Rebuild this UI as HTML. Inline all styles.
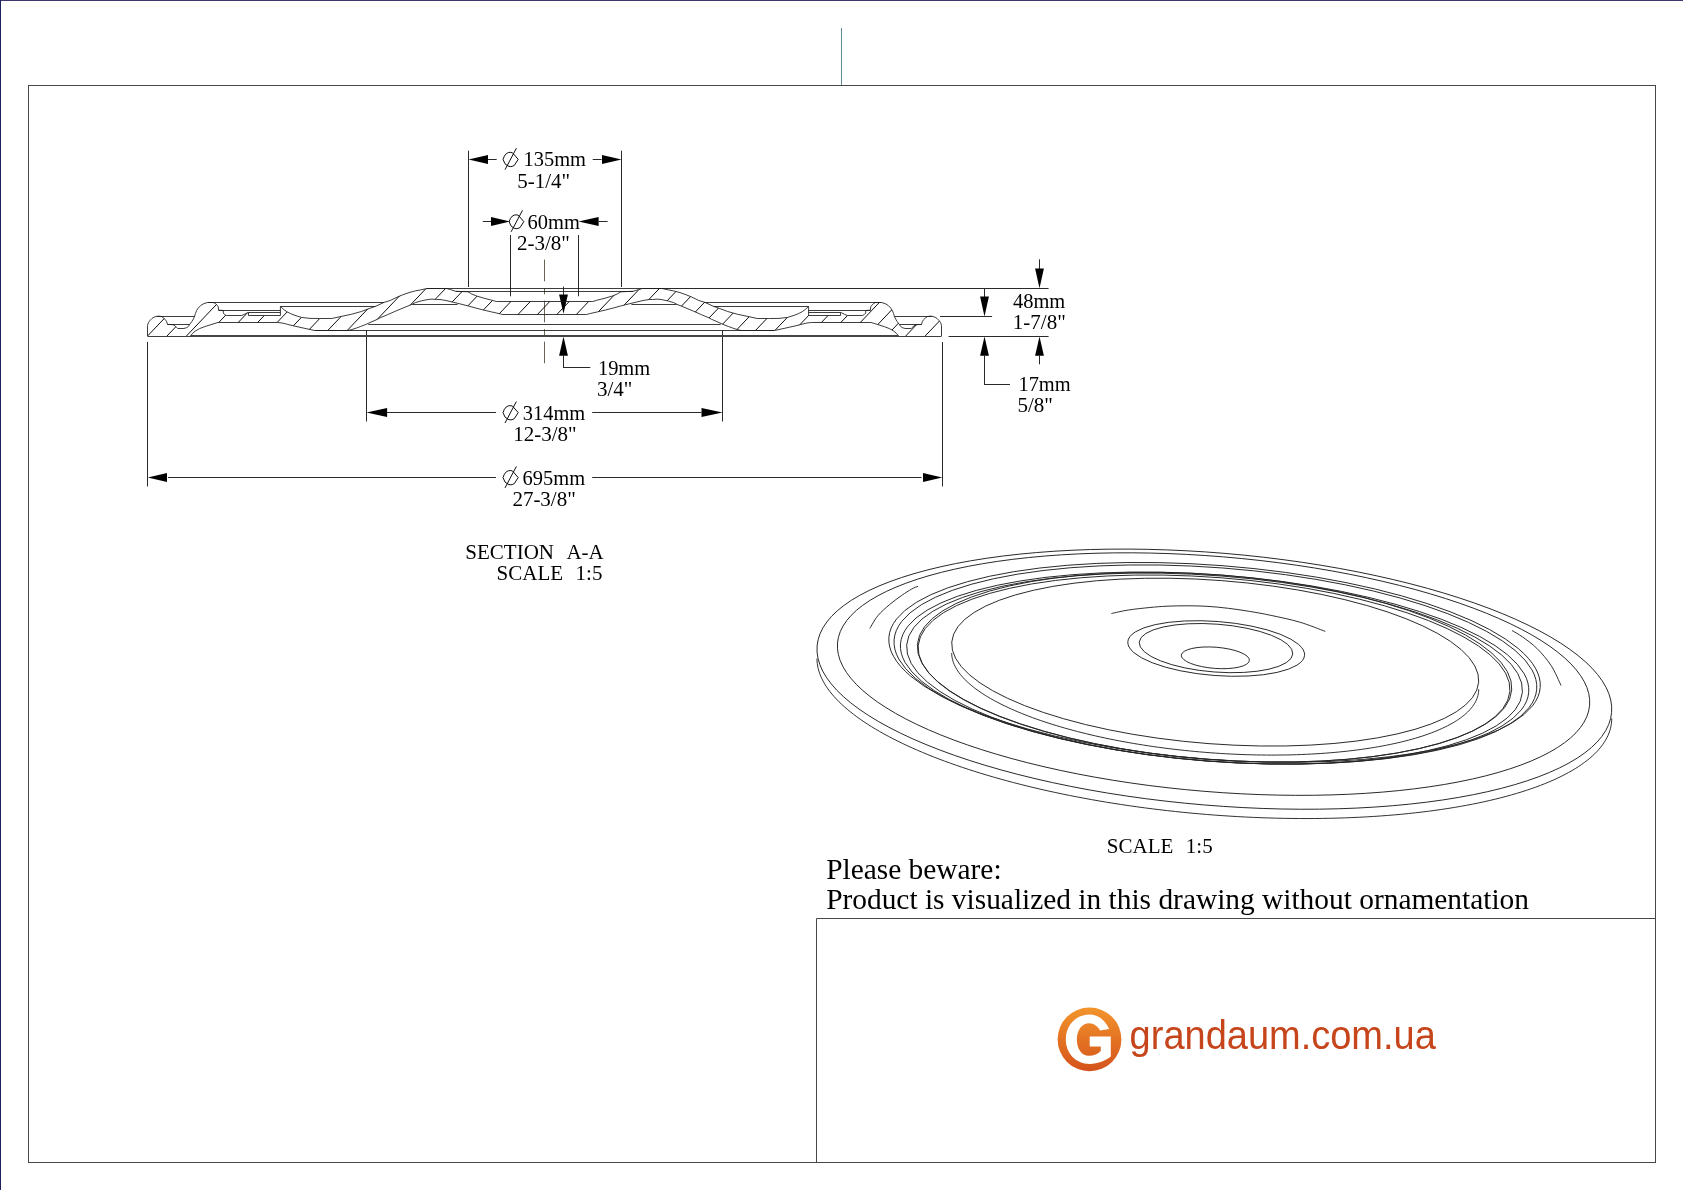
<!DOCTYPE html>
<html><head><meta charset="utf-8"><style>
html,body{margin:0;padding:0;background:#fff;}
body{width:1683px;height:1190px;overflow:hidden;}
svg{display:block;will-change:transform;}
</style></head><body>
<svg width="1683" height="1190" viewBox="0 0 1683 1190">
<rect x="28.5" y="85.5" width="1627" height="1077" fill="none" stroke="#474747" stroke-width="1"/>
<line x1="0" y1="0.5" x2="1683" y2="0.5" stroke="#3c3870" stroke-width="1"/>
<line x1="0.5" y1="0" x2="0.5" y2="1190" stroke="#20205e" stroke-width="1"/>
<line x1="841.5" y1="28" x2="841.5" y2="85" stroke="#5b8c9b" stroke-width="1"/>
<polyline points="816.5,1162 816.5,918.5 1655,918.5" fill="none" stroke="#474747" stroke-width="1"/>
<line x1="468.50" y1="150.70" x2="468.50" y2="287.00" stroke="#2a2a2a" stroke-width="1" />
<line x1="621.50" y1="150.70" x2="621.50" y2="287.00" stroke="#2a2a2a" stroke-width="1" />
<line x1="488.00" y1="159.50" x2="496.70" y2="159.50" stroke="#2a2a2a" stroke-width="1" />
<line x1="592.70" y1="159.50" x2="601.60" y2="159.50" stroke="#2a2a2a" stroke-width="1" />
<polygon points="468.50,159.50 488.00,155.10 488.00,163.90" fill="#000"/>
<polygon points="621.50,159.50 602.00,163.90 602.00,155.10" fill="#000"/>
<polygon points="503.00,159.30 504.40,156.00 506.30,153.60 508.30,152.60 510.20,152.30 512.40,152.70 518.20,159.30 514.30,165.40 512.10,166.40 510.20,166.60 508.00,166.00 505.00,163.80" fill="none" stroke="#000" stroke-width="0.95" stroke-linejoin="round"/>
<line x1="505.00" y1="169.70" x2="516.40" y2="148.20" stroke="#000" stroke-width="0.95"/>
<text transform="translate(523.50 166.40) scale(0.975 1)" font-family="Liberation Serif" font-size="21" fill="#000" xml:space="preserve">135mm</text>
<text x="517.28" y="187.50" font-family="Liberation Serif" font-size="21" fill="#000" xml:space="preserve">5-1/4&quot;</text>
<line x1="510.50" y1="235.00" x2="510.50" y2="296.30" stroke="#2a2a2a" stroke-width="1" />
<line x1="578.50" y1="235.00" x2="578.50" y2="296.30" stroke="#2a2a2a" stroke-width="1" />
<line x1="482.80" y1="221.50" x2="491.00" y2="221.50" stroke="#2a2a2a" stroke-width="1" />
<line x1="598.60" y1="221.50" x2="607.60" y2="221.50" stroke="#2a2a2a" stroke-width="1" />
<polygon points="510.50,221.50 491.00,225.90 491.00,217.10" fill="#000"/>
<polygon points="578.50,221.50 598.60,217.10 598.60,225.90" fill="#000"/>
<polygon points="509.10,221.61 510.46,218.41 512.30,216.08 514.24,215.11 516.08,214.82 518.22,215.21 523.84,221.61 520.06,227.53 517.93,228.50 516.08,228.69 513.95,228.11 511.04,225.98" fill="none" stroke="#000" stroke-width="0.95" stroke-linejoin="round"/>
<line x1="511.10" y1="231.80" x2="522.50" y2="210.30" stroke="#000" stroke-width="0.95"/>
<text transform="translate(527.62 228.50) scale(0.975 1)" font-family="Liberation Serif" font-size="21" fill="#000" xml:space="preserve">60mm</text>
<text x="516.98" y="249.80" font-family="Liberation Serif" font-size="21" fill="#000" xml:space="preserve">2-3/8&quot;</text>
<line x1="661.50" y1="288.50" x2="1048.60" y2="288.50" stroke="#2a2a2a" stroke-width="1" />
<line x1="940.00" y1="316.50" x2="992.10" y2="316.50" stroke="#2a2a2a" stroke-width="1" />
<line x1="948.60" y1="336.50" x2="1048.60" y2="336.50" stroke="#2a2a2a" stroke-width="1" />
<line x1="1039.50" y1="259.30" x2="1039.50" y2="269.00" stroke="#2a2a2a" stroke-width="1" />
<polygon points="1039.50,288.30 1035.10,268.60 1043.90,268.60" fill="#000"/>
<line x1="984.50" y1="288.30" x2="984.50" y2="297.00" stroke="#2a2a2a" stroke-width="1" />
<polygon points="984.50,316.40 980.10,296.40 988.90,296.40" fill="#000"/>
<polygon points="984.50,336.60 988.90,355.70 980.10,355.70" fill="#000"/>
<line x1="984.50" y1="355.00" x2="984.50" y2="384.50" stroke="#2a2a2a" stroke-width="1" />
<line x1="984.00" y1="384.50" x2="1010.00" y2="384.50" stroke="#2a2a2a" stroke-width="1" />
<polygon points="1039.50,336.60 1043.90,355.70 1035.10,355.70" fill="#000"/>
<line x1="1039.50" y1="355.00" x2="1039.50" y2="364.30" stroke="#2a2a2a" stroke-width="1" />
<text transform="translate(1013.00 308.30) scale(0.975 1)" font-family="Liberation Serif" font-size="21" fill="#000" xml:space="preserve">48mm</text>
<text x="1012.85" y="329.40" font-family="Liberation Serif" font-size="21" fill="#000" xml:space="preserve">1-7/8&quot;</text>
<text transform="translate(1018.40 391.40) scale(0.975 1)" font-family="Liberation Serif" font-size="21" fill="#000" xml:space="preserve">17mm</text>
<text x="1017.38" y="412.40" font-family="Liberation Serif" font-size="21" fill="#000" xml:space="preserve">5/8&quot;</text>
<polygon points="563.50,313.70 559.10,294.50 567.90,294.50" fill="#000"/>
<line x1="563.50" y1="286.60" x2="563.50" y2="295.00" stroke="#2a2a2a" stroke-width="1" />
<polygon points="563.50,336.50 567.90,355.70 559.10,355.70" fill="#000"/>
<line x1="563.50" y1="355.00" x2="563.50" y2="367.50" stroke="#2a2a2a" stroke-width="1" />
<line x1="563.00" y1="367.50" x2="590.30" y2="367.50" stroke="#2a2a2a" stroke-width="1" />
<text transform="translate(597.90 374.90) scale(0.975 1)" font-family="Liberation Serif" font-size="21" fill="#000" xml:space="preserve">19mm</text>
<text x="596.90" y="395.60" font-family="Liberation Serif" font-size="21" fill="#000" xml:space="preserve">3/4&quot;</text>
<line x1="366.50" y1="330.40" x2="366.50" y2="421.50" stroke="#2a2a2a" stroke-width="1" />
<line x1="722.50" y1="330.40" x2="722.50" y2="421.50" stroke="#2a2a2a" stroke-width="1" />
<polygon points="366.50,412.50 387.10,408.10 387.10,416.90" fill="#000"/>
<polygon points="722.50,412.50 701.50,416.90 701.50,408.10" fill="#000"/>
<line x1="387.00" y1="412.50" x2="496.00" y2="412.50" stroke="#2a2a2a" stroke-width="1" />
<line x1="592.20" y1="412.50" x2="701.50" y2="412.50" stroke="#2a2a2a" stroke-width="1" />
<polygon points="503.00,412.60 504.40,409.30 506.30,406.90 508.30,405.90 510.20,405.60 512.40,406.00 518.20,412.60 514.30,418.70 512.10,419.70 510.20,419.90 508.00,419.30 505.00,417.10" fill="none" stroke="#000" stroke-width="0.95" stroke-linejoin="round"/>
<line x1="505.00" y1="423.00" x2="516.40" y2="401.50" stroke="#000" stroke-width="0.95"/>
<text transform="translate(522.72 419.70) scale(0.975 1)" font-family="Liberation Serif" font-size="21" fill="#000" xml:space="preserve">314mm</text>
<text x="513.15" y="441.00" font-family="Liberation Serif" font-size="21" fill="#000" xml:space="preserve">12-3/8&quot;</text>
<line x1="147.50" y1="342.00" x2="147.50" y2="486.50" stroke="#2a2a2a" stroke-width="1" />
<line x1="942.50" y1="342.00" x2="942.50" y2="486.50" stroke="#2a2a2a" stroke-width="1" />
<polygon points="147.80,477.50 167.00,473.10 167.00,481.90" fill="#000"/>
<polygon points="942.20,477.50 923.00,481.90 923.00,473.10" fill="#000"/>
<line x1="168.00" y1="477.50" x2="496.00" y2="477.50" stroke="#2a2a2a" stroke-width="1" />
<line x1="592.20" y1="477.50" x2="921.50" y2="477.50" stroke="#2a2a2a" stroke-width="1" />
<polygon points="503.00,477.50 504.40,474.20 506.30,471.80 508.30,470.80 510.20,470.50 512.40,470.90 518.20,477.50 514.30,483.60 512.10,484.60 510.20,484.80 508.00,484.20 505.00,482.00" fill="none" stroke="#000" stroke-width="0.95" stroke-linejoin="round"/>
<line x1="505.00" y1="487.90" x2="516.40" y2="466.40" stroke="#000" stroke-width="0.95"/>
<text transform="translate(522.62 484.70) scale(0.975 1)" font-family="Liberation Serif" font-size="21" fill="#000" xml:space="preserve">695mm</text>
<text x="512.38" y="506.00" font-family="Liberation Serif" font-size="21" fill="#000" xml:space="preserve">27-3/8&quot;</text>
<line x1="544.5" y1="259.6" x2="544.5" y2="364.3" stroke="#5a5242" stroke-width="0.9" stroke-dasharray="21.7 6.9 6.1 6.3"/>
<text x="465.30" y="558.80" font-family="Liberation Serif" font-size="21" fill="#000" xml:space="preserve">SECTION</text>
<text x="566.39" y="558.80" font-family="Liberation Serif" font-size="21" fill="#000" xml:space="preserve">A-A</text>
<text x="496.60" y="579.70" font-family="Liberation Serif" font-size="21" fill="#000" xml:space="preserve">SCALE</text>
<text x="575.55" y="579.70" font-family="Liberation Serif" font-size="21" fill="#000" xml:space="preserve">1:5</text>
<text x="1106.80" y="852.60" font-family="Liberation Serif" font-size="21" fill="#000" xml:space="preserve">SCALE</text>
<text x="1185.85" y="852.60" font-family="Liberation Serif" font-size="21" fill="#000" xml:space="preserve">1:5</text>
<text x="826.15" y="878.70" font-family="Liberation Serif" font-size="29.4" fill="#000" xml:space="preserve">Please beware:</text>
<text x="826.15" y="909.10" font-family="Liberation Serif" font-size="29.4" fill="#000" xml:space="preserve">Product is visualized in this drawing without ornamentation</text>
<defs><linearGradient id="og" x1="0" y1="0" x2="0" y2="1">
<stop offset="0" stop-color="#f3952c"/><stop offset="1" stop-color="#d4521b"/></linearGradient></defs>
<circle cx="1089.5" cy="1039.4" r="31.9" fill="url(#og)"/>
<path d="M1109.2,1028.9 C1105,1020 1098,1014.5 1089.8,1014.5 C1076,1014.5 1065.8,1025 1065.8,1039.2 C1065.8,1053.5 1076,1063.9 1089.8,1063.9 C1098,1063.9 1106,1060.5 1110.8,1056.5 L1110.8,1036.6 L1089.7,1036.6 L1089.7,1046.4 L1100.8,1046.4 L1100.8,1050.8 C1098,1054 1094,1055.8 1089,1055.8 C1081,1055.8 1076.9,1048 1076.9,1039.5 C1076.9,1030 1082,1023.2 1089,1023.2 C1094,1023.2 1098,1026.5 1100.1,1030.4 Z" fill="#fff"/>
<text transform="translate(1129.60 1048.5) scale(1 1.05)" font-family="Liberation Sans" font-size="38" fill="#c6451a">grandaum.com.ua</text>
<defs><clipPath id="cutclip"><path d="M147.50,336.10 L147.50,325.40 L148.40,322.60 L150.10,320.30 L152.00,318.40 L153.90,317.20 L156.80,316.30 L159.50,316.20 L161.60,316.60 L163.40,317.80 L165.30,319.60 L166.60,321.40 L167.50,324.50 L171.00,324.50 L173.40,324.90 L175.20,325.90 L176.50,327.30 L177.70,328.50 L183.90,328.50 L186.80,327.60 L188.60,326.20 L189.60,324.50 L191.80,321.60 L193.40,318.90 L194.60,316.40 L195.40,313.60 L196.60,310.60 L198.20,308.10 L200.60,305.60 L203.80,303.60 L207.60,302.50 L213.30,302.50 L215.40,303.50 L217.20,305.30 L218.30,306.90 L218.60,310.20 L223.30,310.50 L223.30,313.10 L224.50,314.40 L226.40,315.50 L241.60,315.50 L244.50,314.30 L247.80,312.60 L248.50,312.40 L248.50,315.50 L280.40,315.50 L280.40,306.40 L283.50,309.30 L286.80,311.70 L290.50,313.60 L295.00,315.40 L301.40,317.40 L310.00,318.40 L319.50,318.50 L331.80,318.50 L339.90,316.70 L351.80,314.20 L361.30,311.50 L369.80,308.30 L375.60,306.30 L384.20,302.30 L390.20,300.50 L397.80,296.80 L402.80,294.80 L409.00,292.60 L415.40,290.90 L420.50,289.90 L427.00,288.50 L446.50,288.50 L450.50,289.60 L455.70,291.30 L468.10,291.80 L471.40,293.80 L476.60,296.00 L484.00,298.20 L492.30,300.30 L496.20,301.50 L544.50,301.50 L544.50,314.50 L502.70,314.50 L499.50,313.70 L491.50,311.90 L483.80,310.10 L476.00,308.10 L468.80,306.10 L460.90,304.10 L453.10,302.20 L446.00,300.50 L440.00,299.50 L436.60,299.50 L432.00,299.10 L428.00,299.50 L421.50,300.80 L415.40,302.60 L412.40,304.20 L404.00,307.60 L395.20,311.30 L387.50,314.70 L380.10,317.80 L377.60,319.20 L371.00,322.10 L365.00,324.80 L360.50,326.50 L356.50,328.00 L352.00,329.50 L348.00,330.50 L314.70,330.50 L309.00,329.30 L300.00,327.30 L295.00,326.20 L290.00,325.00 L286.30,324.00 L282.00,323.00 L277.70,322.50 L217.90,322.50 L212.00,324.30 L204.80,326.60 L199.50,328.60 L195.30,331.10 L192.50,333.40 L190.50,336.10 Z"/><path d="M941.50,336.10 L941.50,325.40 L940.60,322.60 L938.90,320.30 L937.00,318.40 L935.10,317.20 L932.20,316.30 L929.50,316.20 L927.40,316.60 L925.60,317.80 L923.70,319.60 L922.40,321.40 L921.50,324.50 L918.00,324.50 L915.60,324.90 L913.80,325.90 L912.50,327.30 L911.30,328.50 L905.10,328.50 L902.20,327.60 L900.40,326.20 L899.40,324.50 L897.20,321.60 L895.60,318.90 L894.40,316.40 L893.60,313.60 L892.40,310.60 L890.80,308.10 L888.40,305.60 L885.20,303.60 L881.40,302.50 L875.70,302.50 L873.60,303.50 L871.80,305.30 L870.70,306.90 L870.40,310.20 L865.70,310.50 L865.70,313.10 L864.50,314.40 L862.60,315.50 L847.40,315.50 L844.50,314.30 L841.20,312.60 L840.50,312.40 L840.50,315.50 L808.60,315.50 L808.60,306.40 L805.50,309.30 L802.20,311.70 L798.50,313.60 L794.00,315.40 L787.60,317.40 L779.00,318.40 L769.50,318.50 L757.20,318.50 L749.10,316.70 L737.20,314.20 L727.70,311.50 L719.20,308.30 L713.40,306.30 L704.80,302.30 L698.80,300.50 L691.20,296.80 L686.20,294.80 L680.00,292.60 L673.60,290.90 L668.50,289.90 L662.00,288.50 L642.50,288.50 L638.50,289.60 L633.30,291.30 L620.90,291.80 L617.60,293.80 L612.40,296.00 L605.00,298.20 L596.70,300.30 L592.80,301.50 L544.50,301.50 L544.50,314.50 L586.30,314.50 L589.50,313.70 L597.50,311.90 L605.20,310.10 L613.00,308.10 L620.20,306.10 L628.10,304.10 L635.90,302.20 L643.00,300.50 L649.00,299.50 L652.40,299.50 L657.00,299.10 L661.00,299.50 L667.50,300.80 L673.60,302.60 L676.60,304.20 L685.00,307.60 L693.80,311.30 L701.50,314.70 L708.90,317.80 L711.40,319.20 L718.00,322.10 L724.00,324.80 L728.50,326.50 L732.50,328.00 L737.00,329.50 L741.00,330.50 L774.30,330.50 L780.00,329.30 L789.00,327.30 L794.00,326.20 L799.00,325.00 L802.70,324.00 L807.00,323.00 L811.30,322.50 L871.10,322.50 L877.00,324.30 L884.20,326.60 L889.50,328.60 L893.70,331.10 L896.50,333.40 L898.50,336.10 Z"/></clipPath></defs>
<path d="M142.58,280.0 L85.44,340.0 M162.02,280.0 L104.88,340.0 M181.46,280.0 L124.32,340.0 M200.90,280.0 L143.76,340.0 M220.34,280.0 L163.20,340.0 M239.78,280.0 L182.64,340.0 M259.22,280.0 L202.08,340.0 M278.66,280.0 L221.52,340.0 M298.10,280.0 L240.96,340.0 M317.54,280.0 L260.40,340.0 M336.98,280.0 L279.84,340.0 M356.42,280.0 L299.28,340.0 M375.86,280.0 L318.72,340.0 M395.30,280.0 L338.16,340.0 M414.74,280.0 L357.60,340.0 M434.18,280.0 L377.04,340.0 M453.62,280.0 L396.48,340.0 M473.06,280.0 L415.92,340.0 M492.50,280.0 L435.36,340.0 M511.94,280.0 L454.80,340.0 M531.38,280.0 L474.24,340.0 M550.82,280.0 L493.68,340.0 M570.26,280.0 L513.12,340.0 M589.70,280.0 L532.56,340.0 M609.14,280.0 L552.00,340.0 M628.58,280.0 L571.44,340.0 M648.02,280.0 L590.88,340.0 M667.46,280.0 L610.32,340.0 M686.90,280.0 L629.76,340.0 M706.34,280.0 L649.20,340.0 M725.78,280.0 L668.64,340.0 M745.22,280.0 L688.08,340.0 M764.66,280.0 L707.52,340.0 M784.10,280.0 L726.96,340.0 M803.54,280.0 L746.40,340.0 M822.98,280.0 L765.84,340.0 M842.42,280.0 L785.28,340.0 M861.86,280.0 L804.72,340.0 M881.30,280.0 L824.16,340.0 M900.74,280.0 L843.60,340.0 M920.18,280.0 L863.04,340.0 M939.62,280.0 L882.48,340.0 M959.06,280.0 L901.92,340.0 M978.50,280.0 L921.36,340.0 M997.94,280.0 L940.80,340.0 M1017.38,280.0 L960.24,340.0 M1036.82,280.0 L979.68,340.0 M1056.26,280.0 L999.12,340.0" stroke="#000" stroke-width="0.95" fill="none" clip-path="url(#cutclip)"/>
<path d="M147.50,336.10 L147.50,325.40 L148.40,322.60 L150.10,320.30 L152.00,318.40 L153.90,317.20 L156.80,316.30 L159.50,316.20 L161.60,316.60 L163.40,317.80 L165.30,319.60 L166.60,321.40 L167.50,324.50 L171.00,324.50 L173.40,324.90 L175.20,325.90 L176.50,327.30 L177.70,328.50 L183.90,328.50 L186.80,327.60 L188.60,326.20 L189.60,324.50 L191.80,321.60 L193.40,318.90 L194.60,316.40 L195.40,313.60 L196.60,310.60 L198.20,308.10 L200.60,305.60 L203.80,303.60 L207.60,302.50 L213.30,302.50 L215.40,303.50 L217.20,305.30 L218.30,306.90 L218.60,310.20 L223.30,310.50 L223.30,313.10 L224.50,314.40 L226.40,315.50 L241.60,315.50 L244.50,314.30 L247.80,312.60 L248.50,312.40 L248.50,315.50 L280.40,315.50 L280.40,306.40 L283.50,309.30 L286.80,311.70 L290.50,313.60 L295.00,315.40 L301.40,317.40 L310.00,318.40 L319.50,318.50 L331.80,318.50 L339.90,316.70 L351.80,314.20 L361.30,311.50 L369.80,308.30 L375.60,306.30 L384.20,302.30 L390.20,300.50 L397.80,296.80 L402.80,294.80 L409.00,292.60 L415.40,290.90 L420.50,289.90 L427.00,288.50 L446.50,288.50 L450.50,289.60 L455.70,291.30 L468.10,291.80 L471.40,293.80 L476.60,296.00 L484.00,298.20 L492.30,300.30 L496.20,301.50 L544.50,301.50" stroke="#1a1a1a" stroke-width="0.85" fill="none" stroke-linejoin="round"/>
<path d="M941.50,336.10 L941.50,325.40 L940.60,322.60 L938.90,320.30 L937.00,318.40 L935.10,317.20 L932.20,316.30 L929.50,316.20 L927.40,316.60 L925.60,317.80 L923.70,319.60 L922.40,321.40 L921.50,324.50 L918.00,324.50 L915.60,324.90 L913.80,325.90 L912.50,327.30 L911.30,328.50 L905.10,328.50 L902.20,327.60 L900.40,326.20 L899.40,324.50 L897.20,321.60 L895.60,318.90 L894.40,316.40 L893.60,313.60 L892.40,310.60 L890.80,308.10 L888.40,305.60 L885.20,303.60 L881.40,302.50 L875.70,302.50 L873.60,303.50 L871.80,305.30 L870.70,306.90 L870.40,310.20 L865.70,310.50 L865.70,313.10 L864.50,314.40 L862.60,315.50 L847.40,315.50 L844.50,314.30 L841.20,312.60 L840.50,312.40 L840.50,315.50 L808.60,315.50 L808.60,306.40 L805.50,309.30 L802.20,311.70 L798.50,313.60 L794.00,315.40 L787.60,317.40 L779.00,318.40 L769.50,318.50 L757.20,318.50 L749.10,316.70 L737.20,314.20 L727.70,311.50 L719.20,308.30 L713.40,306.30 L704.80,302.30 L698.80,300.50 L691.20,296.80 L686.20,294.80 L680.00,292.60 L673.60,290.90 L668.50,289.90 L662.00,288.50 L642.50,288.50 L638.50,289.60 L633.30,291.30 L620.90,291.80 L617.60,293.80 L612.40,296.00 L605.00,298.20 L596.70,300.30 L592.80,301.50 L544.50,301.50" stroke="#1a1a1a" stroke-width="0.85" fill="none" stroke-linejoin="round"/>
<path d="M544.50,314.50 L502.70,314.50 L499.50,313.70 L491.50,311.90 L483.80,310.10 L476.00,308.10 L468.80,306.10 L460.90,304.10 L453.10,302.20 L446.00,300.50 L440.00,299.50 L436.60,299.50 L432.00,299.10 L428.00,299.50 L421.50,300.80 L415.40,302.60 L412.40,304.20 L404.00,307.60 L395.20,311.30 L387.50,314.70 L380.10,317.80 L377.60,319.20 L371.00,322.10 L365.00,324.80 L360.50,326.50 L356.50,328.00 L352.00,329.50 L348.00,330.50 L314.70,330.50 L309.00,329.30 L300.00,327.30 L295.00,326.20 L290.00,325.00 L286.30,324.00 L282.00,323.00 L277.70,322.50 L217.90,322.50 L212.00,324.30 L204.80,326.60 L199.50,328.60 L195.30,331.10 L192.50,333.40 L190.50,336.10" stroke="#1a1a1a" stroke-width="0.85" fill="none" stroke-linejoin="round"/>
<path d="M544.50,314.50 L586.30,314.50 L589.50,313.70 L597.50,311.90 L605.20,310.10 L613.00,308.10 L620.20,306.10 L628.10,304.10 L635.90,302.20 L643.00,300.50 L649.00,299.50 L652.40,299.50 L657.00,299.10 L661.00,299.50 L667.50,300.80 L673.60,302.60 L676.60,304.20 L685.00,307.60 L693.80,311.30 L701.50,314.70 L708.90,317.80 L711.40,319.20 L718.00,322.10 L724.00,324.80 L728.50,326.50 L732.50,328.00 L737.00,329.50 L741.00,330.50 L774.30,330.50 L780.00,329.30 L789.00,327.30 L794.00,326.20 L799.00,325.00 L802.70,324.00 L807.00,323.00 L811.30,322.50 L871.10,322.50 L877.00,324.30 L884.20,326.60 L889.50,328.60 L893.70,331.10 L896.50,333.40 L898.50,336.10" stroke="#1a1a1a" stroke-width="0.85" fill="none" stroke-linejoin="round"/>
<path d="M156.80,316.50 L194.60,316.50" stroke="#1a1a1a" stroke-width="0.85" fill="none"/>
<path d="M932.20,316.50 L894.40,316.50" stroke="#1a1a1a" stroke-width="0.85" fill="none"/>
<path d="M167.50,324.50 L189.60,324.50" stroke="#1a1a1a" stroke-width="0.85" fill="none"/>
<path d="M921.50,324.50 L899.40,324.50" stroke="#1a1a1a" stroke-width="0.85" fill="none"/>
<path d="M207.60,302.50 L384.20,302.50" stroke="#1a1a1a" stroke-width="0.85" fill="none"/>
<path d="M881.40,302.50 L704.80,302.50" stroke="#1a1a1a" stroke-width="0.85" fill="none"/>
<path d="M218.60,310.50 L280.40,310.50" stroke="#1a1a1a" stroke-width="0.85" fill="none"/>
<path d="M870.40,310.50 L808.60,310.50" stroke="#1a1a1a" stroke-width="0.85" fill="none"/>
<path d="M248.50,312.50 L280.40,312.50" stroke="#1a1a1a" stroke-width="0.85" fill="none"/>
<path d="M840.50,312.50 L808.60,312.50" stroke="#1a1a1a" stroke-width="0.85" fill="none"/>
<path d="M280.40,306.50 L375.60,306.50" stroke="#1a1a1a" stroke-width="0.85" fill="none"/>
<path d="M808.60,306.50 L713.40,306.50" stroke="#1a1a1a" stroke-width="0.85" fill="none"/>
<path d="M412.40,304.50 L457.60,304.50" stroke="#1a1a1a" stroke-width="0.85" fill="none"/>
<path d="M676.60,304.50 L631.40,304.50" stroke="#1a1a1a" stroke-width="0.85" fill="none"/>
<path d="M427.00,288.50 L662.00,288.50" stroke="#1a1a1a" stroke-width="0.85" fill="none"/>
<path d="M455.70,291.50 L633.30,291.50" stroke="#1a1a1a" stroke-width="0.85" fill="none"/>
<path d="M368.30,324.50 L720.70,324.50" stroke="#1a1a1a" stroke-width="0.85" fill="none"/>
<path d="M314.70,330.50 L774.30,330.50" stroke="#1a1a1a" stroke-width="0.85" fill="none"/>
<path d="M147.50,336.50 L941.50,336.50" stroke="#1a1a1a" stroke-width="0.85" fill="none"/>
<line x1="190.5" y1="336" x2="898.5" y2="336" stroke="#444" stroke-width="2"/>
<ellipse cx="1214.36" cy="679.16" rx="398.64" ry="126.20" transform="rotate(4.788 1214.36 679.16)" fill="none" stroke="#262626" stroke-width="0.95"/>
<ellipse cx="1213.56" cy="674.08" rx="377.34" ry="117.61" transform="rotate(4.730 1213.56 674.08)" fill="none" stroke="#262626" stroke-width="0.95"/>
<ellipse cx="1214.55" cy="662.40" rx="326.63" ry="97.04" transform="rotate(4.400 1214.55 662.40)" fill="none" stroke="#262626" stroke-width="0.95"/>
<ellipse cx="1215.40" cy="664.49" rx="322.26" ry="96.78" transform="rotate(4.400 1215.40 664.49)" fill="none" stroke="#262626" stroke-width="0.95"/>
<ellipse cx="1214.60" cy="668.05" rx="315.05" ry="93.24" transform="rotate(4.400 1214.60 668.05)" fill="none" stroke="#262626" stroke-width="0.95"/>
<ellipse cx="1214.55" cy="668.57" rx="308.78" ry="92.82" transform="rotate(4.400 1214.55 668.57)" fill="none" stroke="#262626" stroke-width="0.95"/>
<ellipse cx="1214.55" cy="667.21" rx="298.04" ry="92.36" transform="rotate(4.400 1214.55 667.21)" fill="none" stroke="#262626" stroke-width="0.95"/>
<ellipse cx="1214.05" cy="668.54" rx="296.74" ry="91.02" transform="rotate(4.400 1214.05 668.54)" fill="none" stroke="#262626" stroke-width="0.95"/>
<ellipse cx="1215.21" cy="662.12" rx="264.21" ry="81.76" transform="rotate(4.354 1215.21 662.12)" fill="none" stroke="#262626" stroke-width="0.95"/>
<ellipse cx="1216.20" cy="648.50" rx="88.64" ry="27.04" transform="rotate(4.400 1216.20 648.50)" fill="none" stroke="#262626" stroke-width="0.95"/>
<ellipse cx="1216.00" cy="648.10" rx="77.00" ry="23.95" transform="rotate(4.400 1216.00 648.10)" fill="none" stroke="#262626" stroke-width="0.95"/>
<ellipse cx="1215.35" cy="657.81" rx="34.14" ry="10.60" transform="rotate(4.400 1215.35 657.81)" fill="none" stroke="#262626" stroke-width="0.95"/>
<path d="M1611.75,718.39 L1611.67,720.87 L1611.44,723.34 L1611.06,725.79 L1610.52,728.23 L1609.83,730.65 L1608.99,733.06 L1608.00,735.45 L1606.86,737.82 L1605.56,740.18 L1604.11,742.51 L1602.52,744.82 L1600.77,747.12 L1598.87,749.38 L1596.83,751.63 L1594.64,753.85 L1592.30,756.04 L1589.82,758.21 L1587.19,760.36 L1584.41,762.47 L1581.50,764.56 L1578.44,766.61 L1575.25,768.64 L1571.91,770.64 L1568.44,772.60 L1564.83,774.53 L1561.08,776.43 L1557.20,778.30 L1553.19,780.13 L1549.05,781.92 L1544.78,783.68 L1540.38,785.40 L1535.85,787.09 L1531.21,788.73 L1526.44,790.34 L1521.55,791.91 L1516.54,793.44 L1511.41,794.92 L1506.17,796.37 L1500.82,797.78 L1495.36,799.14 L1489.78,800.46 L1484.11,801.74 L1478.33,802.97 L1472.44,804.16 L1466.46,805.31 L1460.38,806.41 L1454.21,807.46 L1447.94,808.47 L1441.58,809.43 L1435.14,810.35 L1428.61,811.22 L1421.99,812.04 L1415.30,812.81 L1408.53,813.54 L1401.69,814.22 L1394.77,814.85 L1387.78,815.43 L1380.73,815.96 L1373.61,816.44 L1366.43,816.87 L1359.20,817.26 L1351.90,817.59 L1344.56,817.88 L1337.16,818.11 L1329.72,818.29 L1322.23,818.43 L1314.70,818.51 L1307.13,818.55 L1299.52,818.53 L1291.89,818.46 L1284.22,818.35 L1276.53,818.18 L1268.81,817.96 L1261.07,817.70 L1253.31,817.38 L1245.54,817.02 L1237.75,816.60 L1229.96,816.13 L1222.16,815.62 L1214.36,815.06 L1206.56,814.45 L1198.76,813.78 L1190.97,813.08 L1183.18,812.32 L1175.41,811.51 L1167.65,810.66 L1159.91,809.76 L1152.19,808.82 L1144.50,807.82 L1136.83,806.79 L1129.20,805.70 L1121.59,804.57 L1114.02,803.40 L1106.49,802.18 L1099.00,800.92 L1091.56,799.61 L1084.16,798.26 L1076.82,796.87 L1069.52,795.44 L1062.29,793.97 L1055.11,792.45 L1047.99,790.90 L1040.94,789.30 L1033.95,787.67 L1027.03,786.00 L1020.19,784.29 L1013.42,782.55 L1006.73,780.76 L1000.11,778.95 L993.58,777.09 L987.14,775.21 L980.78,773.29 L974.51,771.34 L968.34,769.35 L962.26,767.33 L956.28,765.29 L950.39,763.21 L944.61,761.11 L938.94,758.97 L933.36,756.82 L927.90,754.63 L922.55,752.42 L917.31,750.18 L912.18,747.92 L907.17,745.64 L902.28,743.33 L897.51,741.01 L892.87,738.66 L888.34,736.29 L883.94,733.91 L879.67,731.51 L875.53,729.09 L871.52,726.65 L867.64,724.21 L863.89,721.74 L860.28,719.27 L856.81,716.78 L853.47,714.28 L850.28,711.77 L847.22,709.26 L844.31,706.73 L841.53,704.20 L838.90,701.66 L836.42,699.12 L834.08,696.57 L831.89,694.02 L829.85,691.47 L827.95,688.91 L826.20,686.36 L824.61,683.80 L823.16,681.25 L821.86,678.70 L820.72,676.16 L819.73,673.62 L818.89,671.08 L818.20,668.56 L817.66,666.04 L817.28,663.52 L817.05,661.02 L816.97,658.53" fill="none" stroke="#262626" stroke-width="0.95"/>
<path d="M1478.73,689.25 L1478.68,690.86 L1478.53,692.46 L1478.27,694.05 L1477.92,695.63 L1477.46,697.20 L1476.90,698.76 L1476.25,700.31 L1475.49,701.85 L1474.63,703.38 L1473.67,704.90 L1472.61,706.40 L1471.45,707.89 L1470.19,709.36 L1468.84,710.82 L1467.38,712.27 L1465.83,713.70 L1464.19,715.11 L1462.44,716.50 L1460.60,717.88 L1458.67,719.24 L1456.64,720.58 L1454.52,721.91 L1452.31,723.21 L1450.01,724.49 L1447.61,725.75 L1445.13,726.99 L1442.56,728.21 L1439.90,729.41 L1437.15,730.59 L1434.32,731.74 L1431.40,732.87 L1428.40,733.97 L1425.32,735.05 L1422.16,736.11 L1418.91,737.14 L1415.59,738.15 L1412.19,739.13 L1408.72,740.08 L1405.17,741.01 L1401.55,741.91 L1397.85,742.78 L1394.09,743.62 L1390.25,744.44 L1386.35,745.23 L1382.39,745.99 L1378.35,746.72 L1374.26,747.42 L1370.10,748.10 L1365.89,748.74 L1361.61,749.35 L1357.28,749.94 L1352.90,750.49 L1348.46,751.01 L1343.97,751.50 L1339.43,751.96 L1334.85,752.39 L1330.21,752.79 L1325.54,753.16 L1320.82,753.49 L1316.05,753.79 L1311.26,754.06 L1306.42,754.30 L1301.55,754.51 L1296.64,754.69 L1291.71,754.83 L1286.74,754.94 L1281.75,755.02 L1276.73,755.06 L1271.68,755.08 L1266.62,755.06 L1261.54,755.00 L1256.43,754.92 L1251.32,754.81 L1246.18,754.66 L1241.04,754.48 L1235.89,754.26 L1230.72,754.02 L1225.56,753.74 L1220.38,753.43 L1215.21,753.09 L1210.04,752.72 L1204.86,752.32 L1199.70,751.88 L1194.53,751.42 L1189.38,750.92 L1184.24,750.39 L1179.10,749.84 L1173.99,749.25 L1168.88,748.63 L1163.80,747.98 L1158.74,747.30 L1153.69,746.60 L1148.67,745.86 L1143.68,745.09 L1138.71,744.30 L1133.78,743.48 L1128.87,742.63 L1124.00,741.75 L1119.16,740.85 L1114.37,739.91 L1109.60,738.96 L1104.88,737.97 L1100.21,736.96 L1095.57,735.93 L1090.99,734.87 L1086.45,733.78 L1081.96,732.67 L1077.52,731.54 L1073.14,730.38 L1068.81,729.20 L1064.53,728.00 L1060.32,726.78 L1056.16,725.54 L1052.07,724.27 L1048.03,722.98 L1044.07,721.68 L1040.17,720.35 L1036.33,719.01 L1032.57,717.64 L1028.87,716.26 L1025.25,714.86 L1021.70,713.45 L1018.23,712.02 L1014.83,710.57 L1011.51,709.11 L1008.26,707.63 L1005.10,706.14 L1002.02,704.63 L999.02,703.12 L996.10,701.59 L993.27,700.04 L990.52,698.49 L987.86,696.93 L985.29,695.35 L982.81,693.77 L980.41,692.18 L978.11,690.58 L975.90,688.97 L973.78,687.36 L971.75,685.74 L969.82,684.11 L967.98,682.48 L966.23,680.85 L964.59,679.21 L963.04,677.56 L961.58,675.92 L960.23,674.27 L958.97,672.62 L957.81,670.98 L956.75,669.33 L955.79,667.68 L954.93,666.03 L954.17,664.39 L953.52,662.75 L952.96,661.11 L952.50,659.47 L952.15,657.84 L951.89,656.22 L951.74,654.60 L951.69,652.99" fill="none" stroke="#262626" stroke-width="0.95"/>
<path d="M869.80,628.50 C871.13,626.38 874.48,619.80 877.80,615.80 C881.12,611.80 885.73,607.88 889.70,604.50 C893.67,601.12 897.93,598.08 901.60,595.50 C905.27,592.92 908.97,590.53 911.70,589.00 C914.43,587.47 916.95,586.75 918.00,586.30" fill="none" stroke="#262626" stroke-width="0.95"/>
<path d="M1561.10,685.50 C1559.43,682.17 1555.13,671.68 1551.10,665.50 C1547.07,659.32 1541.65,653.15 1536.90,648.40 C1532.15,643.65 1526.75,639.98 1522.60,637.00 C1518.45,634.02 1513.77,631.58 1512.00,630.50" fill="none" stroke="#262626" stroke-width="0.95"/>
<path d="M1111.40,613.50 C1114.25,612.92 1122.08,611.00 1128.50,610.00 C1134.92,609.00 1143.48,608.13 1149.90,607.50 C1156.32,606.87 1160.82,606.48 1167.00,606.20 C1173.18,605.92 1180.33,605.78 1187.00,605.80 C1193.67,605.82 1200.12,605.88 1207.00,606.30 C1213.88,606.72 1221.18,607.45 1228.30,608.30 C1235.42,609.15 1242.57,610.22 1249.70,611.40 C1256.83,612.58 1262.78,613.62 1271.10,615.40 C1279.42,617.18 1290.57,619.43 1299.60,622.10 C1308.63,624.77 1321.02,629.85 1325.30,631.40" fill="none" stroke="#262626" stroke-width="0.95"/>
</svg>
</body></html>
